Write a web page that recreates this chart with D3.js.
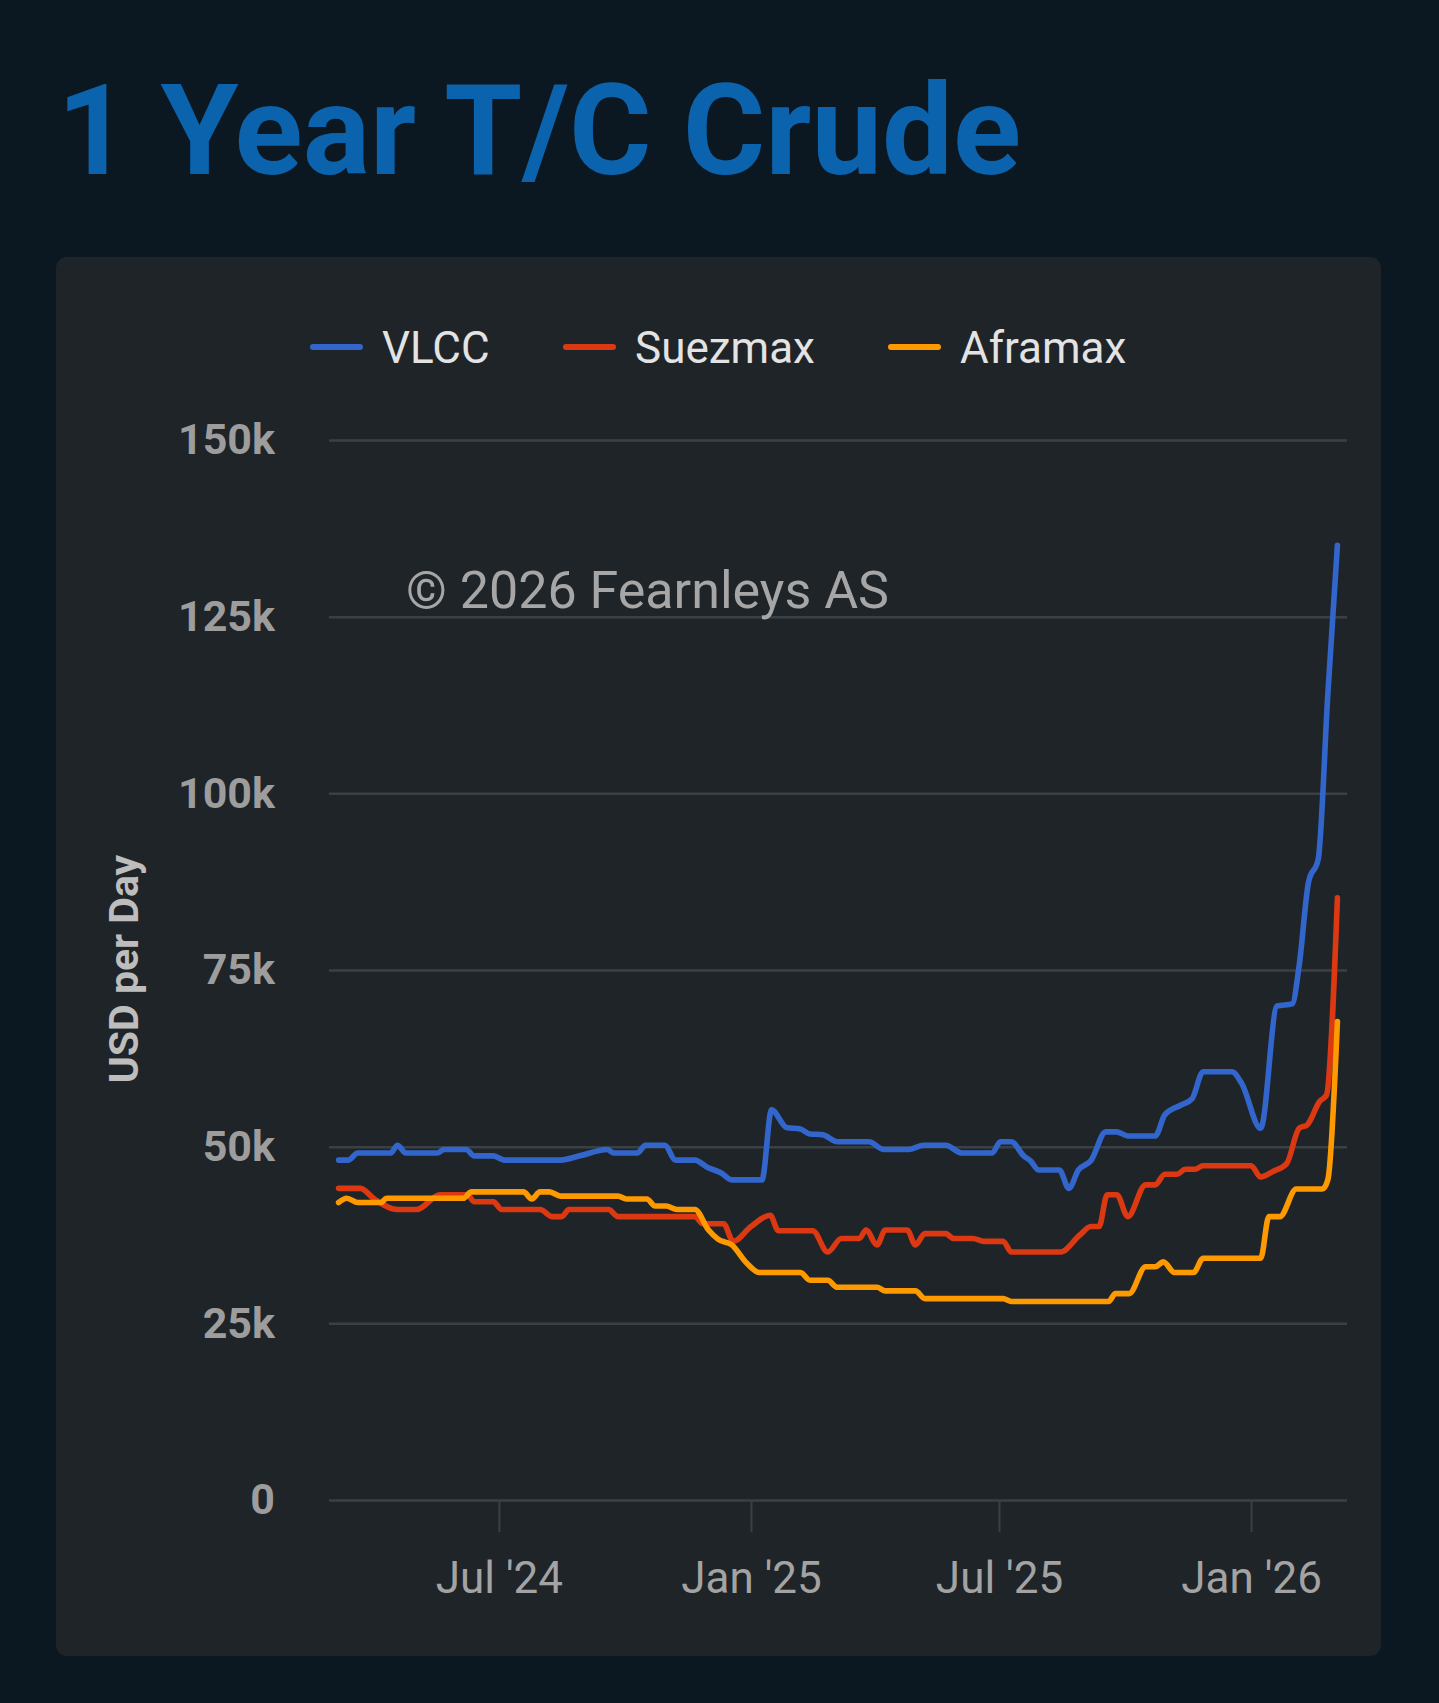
<!DOCTYPE html>
<html>
<head>
<meta charset="utf-8">
<script src="https://d3js.org/d3.v7.min.js"></script>
<style>
body {
  margin: 0;
  background: #0c1821;
}
text {
  font-family: Roboto, "Noto Sans", sans-serif;
}
</style>
</head>
<body>
<div id="graph"></div>
<script>
// weekly fixings (USD '000 per day), only the turning points are listed
var vlcc = [
  ["2024-03-06", 48.1], ["2024-03-13", 48.1], ["2024-03-20", 49.1], ["2024-04-13", 49.1],
  ["2024-04-18", 50.2], ["2024-04-24", 49.1], ["2024-05-17", 49.1], ["2024-05-22", 49.6],
  ["2024-06-07", 49.6], ["2024-06-13", 48.7], ["2024-06-27", 48.7], ["2024-07-05", 48.1],
  ["2024-08-15", 48.1], ["2024-08-29", 48.7], ["2024-09-18", 49.6], ["2024-09-23", 49.1],
  ["2024-10-10", 49.1], ["2024-10-16", 50.2], ["2024-10-30", 50.2], ["2024-11-07", 48.1],
  ["2024-11-21", 48.1], ["2024-11-30", 47.1], ["2024-12-10", 46.3], ["2024-12-18", 45.3],
  ["2025-01-09", 45.3], ["2025-01-16", 55.2], ["2025-01-27", 52.7], ["2025-02-06", 52.5],
  ["2025-02-13", 51.8], ["2025-02-22", 51.7], ["2025-03-05", 50.7], ["2025-03-28", 50.7],
  ["2025-04-08", 49.6], ["2025-04-26", 49.6], ["2025-05-07", 50.2], ["2025-05-23", 50.2],
  ["2025-06-04", 49.1], ["2025-06-26", 49.1], ["2025-07-02", 50.7], ["2025-07-10", 50.7],
  ["2025-07-19", 48.7], ["2025-07-24", 48.0], ["2025-07-30", 46.7], ["2025-08-14", 46.7],
  ["2025-08-21", 44.1], ["2025-08-28", 46.7], ["2025-09-06", 48.0], ["2025-09-17", 52.1],
  ["2025-09-25", 52.1], ["2025-10-03", 51.5], ["2025-10-23", 51.5], ["2025-10-30", 54.5],
  ["2025-11-11", 55.9], ["2025-11-19", 56.8], ["2025-11-27", 60.6], ["2025-12-18", 60.6],
  ["2025-12-25", 59.0], ["2026-01-08", 52.6], ["2026-01-20", 69.9], ["2026-01-31", 70.2],
  ["2026-02-05", 75.5], ["2026-02-12", 87.5], ["2026-02-19", 90.7], ["2026-02-26", 114],
  ["2026-03-05", 135.1]
];

var suezmax = [
  ["2024-03-06", 44.1], ["2024-03-22", 44.1], ["2024-04-01", 42.6], ["2024-04-18", 41.1],
  ["2024-05-02", 41.1], ["2024-05-19", 43.2], ["2024-06-08", 43.2], ["2024-06-13", 42.2],
  ["2024-06-27", 42.2], ["2024-07-03", 41.1], ["2024-07-31", 41.1], ["2024-08-09", 40.1],
  ["2024-08-16", 40.1], ["2024-08-21", 41.1], ["2024-09-19", 41.1], ["2024-09-26", 40.1],
  ["2024-11-21", 40.1], ["2024-11-27", 39.1], ["2024-12-12", 39.1], ["2024-12-19", 36.6],
  ["2025-01-01", 38.7], ["2025-01-15", 40.3], ["2025-01-21", 38.1], ["2025-02-15", 38.1],
  ["2025-02-26", 35.1], ["2025-03-08", 37.0], ["2025-03-21", 37.0], ["2025-03-26", 38.2],
  ["2025-04-03", 36.1], ["2025-04-09", 38.2], ["2025-04-25", 38.2], ["2025-05-01", 36.1],
  ["2025-05-08", 37.7], ["2025-05-23", 37.7], ["2025-05-29", 37.0], ["2025-06-12", 37.0],
  ["2025-06-20", 36.6], ["2025-07-04", 36.6], ["2025-07-10", 35.1], ["2025-08-15", 35.1],
  ["2025-08-29", 37.5], ["2025-09-06", 38.7], ["2025-09-12", 38.7], ["2025-09-18", 43.2],
  ["2025-09-25", 43.2], ["2025-10-03", 40.1], ["2025-10-16", 44.6], ["2025-10-23", 44.6],
  ["2025-10-30", 46.1], ["2025-11-08", 46.1], ["2025-11-14", 46.8], ["2025-11-21", 46.8],
  ["2025-11-27", 47.3], ["2026-01-01", 47.3], ["2026-01-08", 45.7], ["2026-01-17", 46.5],
  ["2026-01-27", 47.6], ["2026-02-05", 52.6], ["2026-02-11", 53.1], ["2026-02-20", 56.4],
  ["2026-02-25", 57.3], ["2026-03-05", 85.2]
];

var aframax = [
  ["2024-03-06", 42.1], ["2024-03-12", 42.7], ["2024-03-20", 42.1], ["2024-04-06", 42.1],
  ["2024-04-10", 42.7], ["2024-06-05", 42.7], ["2024-06-11", 43.6], ["2024-07-19", 43.6],
  ["2024-07-25", 42.6], ["2024-07-31", 43.6], ["2024-08-07", 43.6], ["2024-08-15", 43.0],
  ["2024-09-26", 43.0], ["2024-10-02", 42.6], ["2024-10-17", 42.6], ["2024-10-23", 41.6],
  ["2024-10-31", 41.6], ["2024-11-08", 41.1], ["2024-11-21", 41.1], ["2024-12-01", 38.2],
  ["2024-12-08", 36.9], ["2024-12-18", 36.1], ["2024-12-29", 33.5], ["2025-01-07", 32.2],
  ["2025-02-06", 32.2], ["2025-02-13", 31.1], ["2025-02-26", 31.1], ["2025-03-05", 30.1],
  ["2025-04-03", 30.1], ["2025-04-09", 29.6], ["2025-05-01", 29.6], ["2025-05-08", 28.5],
  ["2025-07-04", 28.5], ["2025-07-10", 28.1], ["2025-09-19", 28.1], ["2025-09-24", 29.2],
  ["2025-10-04", 29.2], ["2025-10-16", 33.0], ["2025-10-23", 33.0], ["2025-10-29", 33.7],
  ["2025-11-06", 32.2], ["2025-11-20", 32.2], ["2025-11-27", 34.2], ["2026-01-08", 34.2],
  ["2026-01-14", 40.1], ["2026-01-22", 40.1], ["2026-02-03", 44.0], ["2026-02-22", 44.0],
  ["2026-02-26", 45.3], ["2026-03-05", 67.7]
];

var seriesNames = ["VLCC", "Suezmax", "Aframax"];
var seriesColors = ["#3366cc", "#dc3912", "#ff9900"];
var yTicks = [0, 25, 50, 75, 100, 125, 150];
var xTicks = ["2024-07-01", "2025-01-01", "2025-07-01", "2026-01-01"];
var xDomain = ["2024-02-28", "2026-03-12"];

var parseDate = d3.timeParse("%Y-%m-%d");
var W = 1439, H = 1703;
var plot = {left: 329, right: 1347, top: 440, bottom: 1500};

var svg = d3.select("#graph")
  .append("svg")
  .attr("width", W)
  .attr("height", H)
  .style("display", "block");

// title
svg.append("text")
  .attr("x", 57)
  .attr("y", 174)
  .style("font-size", "126px")
  .style("font-weight", "700")
  .style("fill", "#0b63ad")
  .text("1 Year T/C Crude");

// chart card
svg.append("rect")
  .attr("x", 56).attr("y", 257)
  .attr("width", 1325).attr("height", 1399)
  .attr("rx", 11)
  .style("fill", "#1f2428");

var x = d3.scaleTime()
  .domain(xDomain.map(parseDate))
  .range([plot.left, plot.right]);

var y = d3.scaleLinear()
  .domain([0, 150])
  .range([plot.bottom, plot.top]);

// y axis with gridlines
var yaxis = svg.append("g")
  .attr("transform", "translate(" + plot.left + ",0)")
  .call(d3.axisLeft(y)
    .tickValues(yTicks)
    .tickSize(-(plot.right - plot.left))
    .tickPadding(54)
    .tickFormat(function(d) { return d === 0 ? "0" : d + "k"; }));
yaxis.select(".domain").remove();
yaxis.selectAll("line").style("stroke", "#3b4045").style("stroke-width", 2.5);
yaxis.selectAll("text")
  .style("font-family", "Roboto, sans-serif")
  .style("font-size", "43px")
  .style("font-weight", "700")
  .style("fill", "#9d9d9d");

// x axis
var xaxis = svg.append("g")
  .attr("transform", "translate(0," + (plot.bottom + 1) + ")")
  .call(d3.axisBottom(x)
    .tickValues(xTicks.map(parseDate))
    .tickSize(31)
    .tickPadding(30)
    .tickFormat(d3.timeFormat("%b '%y")));
xaxis.select(".domain").remove();
xaxis.selectAll("line").style("stroke", "#3b4045").style("stroke-width", 2);
xaxis.selectAll("text")
  .style("font-family", "Roboto, sans-serif")
  .style("font-size", "44px")
  .style("fill", "#a3a3a3");

// y axis title
svg.append("text")
  .attr("transform", "translate(138,969) rotate(-90)")
  .style("text-anchor", "middle")
  .style("font-size", "41px")
  .style("font-weight", "700")
  .style("fill", "#bdbdbd")
  .text("USD per Day");

// watermark
svg.append("text")
  .attr("x", 406)
  .attr("y", 608)
  .style("font-size", "52px")
  .style("fill", "#a6a6a6")
  .text("\u00a9 2026 Fearnleys AS");

// lines
var line = d3.line()
  .x(function(d) { return x(d.date); })
  .y(function(d) { return y(d.value); })
  .curve(d3.curveMonotoneX);

[vlcc, suezmax, aframax].forEach(function(s, i) {
  var data = s.map(function(p) { return {date: parseDate(p[0]), value: p[1]}; });
  svg.append("path")
    .datum(data)
    .attr("d", line)
    .style("fill", "none")
    .style("stroke", seriesColors[i])
    .style("stroke-width", 5.6)
    .style("stroke-linejoin", "round")
    .style("stroke-linecap", "round");
});

// legend
var legendX = [310, 563, 888];
var legend = svg.selectAll(".legend")
  .data(seriesNames)
  .enter().append("g")
  .attr("class", "legend")
  .attr("transform", function(d, i) { return "translate(" + legendX[i] + ",347)"; });
legend.append("line")
  .attr("x1", 3).attr("x2", 50)
  .attr("y1", 0).attr("y2", 0)
  .style("stroke", function(d, i) { return seriesColors[i]; })
  .style("stroke-width", 6)
  .style("stroke-linecap", "round");
legend.append("text")
  .attr("x", 72)
  .attr("y", 0)
  .attr("dy", "0.36em")
  .style("font-size", "44px")
  .style("fill", "#e3e3e3")
  .text(function(d) { return d; });
</script>
</body>
</html>
